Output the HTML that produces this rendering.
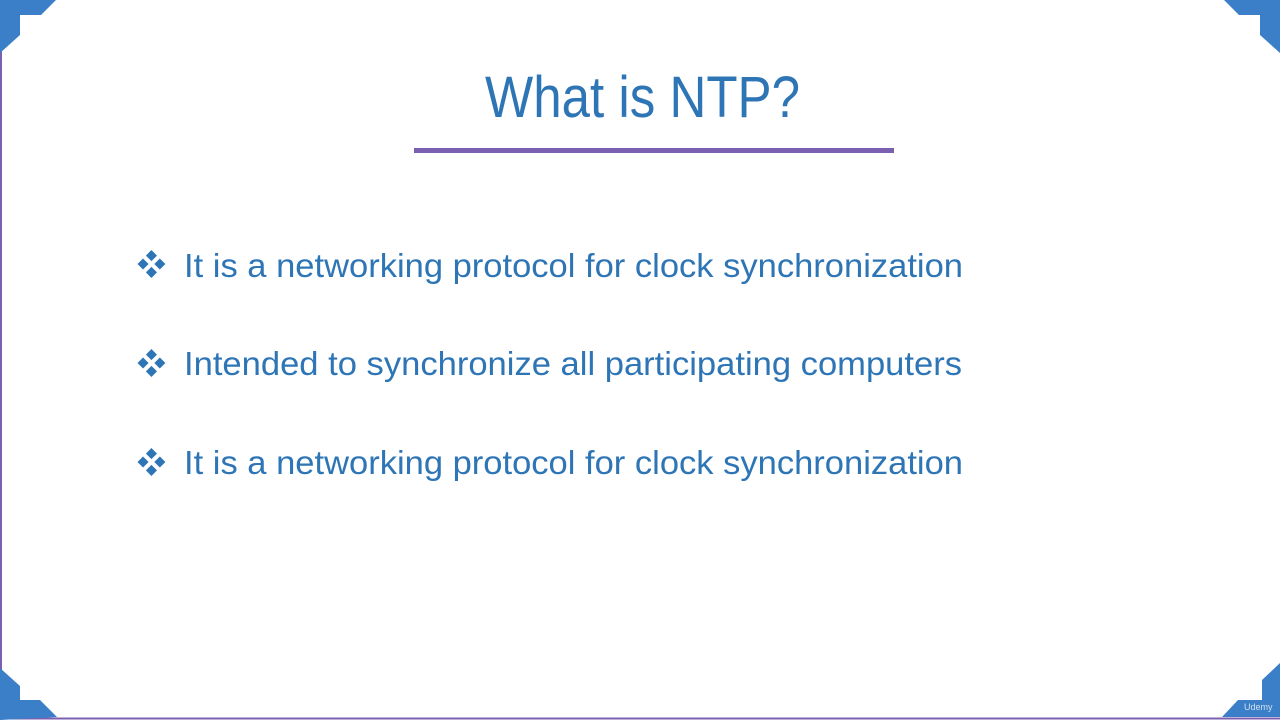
<!DOCTYPE html>
<html><head><meta charset="utf-8"><style>
html,body{margin:0;padding:0;background:#fff;width:1280px;height:720px;overflow:hidden}
</style></head><body>
<svg width="1280" height="720" xmlns="http://www.w3.org/2000/svg" style="display:block">
<rect width="1280" height="720" fill="#fff"/>
<line x1="1" y1="0" x2="1" y2="720" stroke="#7b5fb0" stroke-width="2"/>
<line x1="0" y1="718.5" x2="1280" y2="718.5" stroke="#7b5fb0" stroke-width="2"/>
<g fill="#3b7fc8">
<polygon points="0,0 56,0 41,15 20,15 20,35 0,53"/>
<polygon points="1280,0 1224,0 1239,15 1260,15 1260,35 1280,53"/>
<polygon points="0,720 0,668 20,686 20,700 40,700 57,717"/>
<polygon points="1280,717 1222,717 1238,700 1262,700 1262,680 1280,663"/>
</g>
<g font-family="Liberation Sans, sans-serif" fill="#2e75b6">
<text x="485" y="117" font-size="58" textLength="315" lengthAdjust="spacingAndGlyphs">What is NTP?</text>
<text x="184" y="277" font-size="33" textLength="779" lengthAdjust="spacingAndGlyphs">It is a networking protocol for clock synchronization</text>
<text x="184" y="375" font-size="33" textLength="778" lengthAdjust="spacingAndGlyphs">Intended to synchronize all participating computers</text>
<text x="184" y="474" font-size="33" textLength="779" lengthAdjust="spacingAndGlyphs">It is a networking protocol for clock synchronization</text>
</g>
<rect x="414" y="148" width="480" height="5" fill="#7b5fb0"/>
<g fill="#2e75b6">
<g transform="translate(152,264) scale(1.12)"><rect x="-4" y="-11" width="7" height="7" transform="rotate(45 -0.5 -7.5)"/><rect x="-4" y="4" width="7" height="7" transform="rotate(45 -0.5 7.5)"/><rect x="-11.5" y="-3.5" width="7" height="7" transform="rotate(45 -8 0)"/><rect x="3.5" y="-3.5" width="7" height="7" transform="rotate(45 7 0)"/></g>
<g transform="translate(152,363) scale(1.12)"><rect x="-4" y="-11" width="7" height="7" transform="rotate(45 -0.5 -7.5)"/><rect x="-4" y="4" width="7" height="7" transform="rotate(45 -0.5 7.5)"/><rect x="-11.5" y="-3.5" width="7" height="7" transform="rotate(45 -8 0)"/><rect x="3.5" y="-3.5" width="7" height="7" transform="rotate(45 7 0)"/></g>
<g transform="translate(152,462) scale(1.12)"><rect x="-4" y="-11" width="7" height="7" transform="rotate(45 -0.5 -7.5)"/><rect x="-4" y="4" width="7" height="7" transform="rotate(45 -0.5 7.5)"/><rect x="-11.5" y="-3.5" width="7" height="7" transform="rotate(45 -8 0)"/><rect x="3.5" y="-3.5" width="7" height="7" transform="rotate(45 7 0)"/></g>
</g>
<text x="1244" y="710" font-family="Liberation Sans, sans-serif" font-size="9" fill="#cfe0f3">Udemy</text>
</svg>
</body></html>
